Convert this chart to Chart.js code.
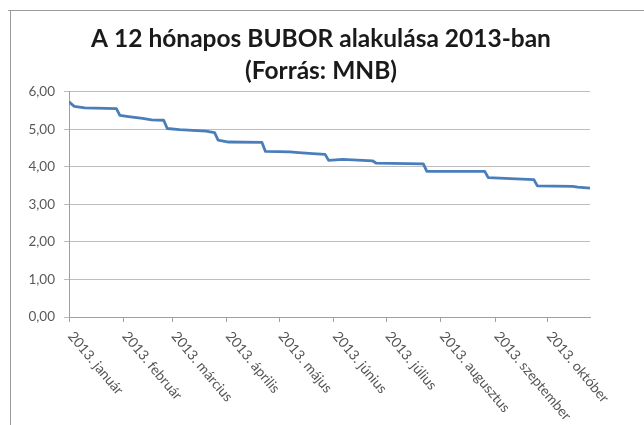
<!DOCTYPE html>
<html>
<head>
  <title>12 hónapos BUBOR 2013</title>
  <script src="https://cdn.jsdelivr.net/npm/chart.js"></script>
  <style>
    body { margin: 0; background: #fff; }
    #wrap { width: 644px; height: 425px; position: relative; }
  </style>
</head>
<body>
  <div id="wrap"><canvas id="bubor"></canvas></div>
  <script>
    // napok január 1-től számolva, és a BUBOR értéke (%)
    const days = [0, 3, 9, 27, 29, 35, 42, 47, 54, 56, 63, 78, 83, 85, 91, 110, 112, 126, 131, 139, 146, 148, 156, 173, 175, 202, 204, 237, 239, 255, 265, 267, 287, 290, 297];
    const rates = [5.73, 5.61, 5.57, 5.55, 5.37, 5.33, 5.29, 5.25, 5.24, 5.02, 4.99, 4.95, 4.91, 4.71, 4.66, 4.65, 4.41, 4.40, 4.38, 4.35, 4.33, 4.17, 4.20, 4.16, 4.10, 4.08, 3.88, 3.88, 3.71, 3.68, 3.66, 3.49, 3.48, 3.46, 3.43];

    // hónapok kezdőnapjai és feliratai
    const monthDays = [0, 31, 59, 90, 120, 151, 181, 212, 243, 273];
    const monthLabels = ['2013. január', '2013. február', '2013. március', '2013. április', '2013. május',
      '2013. június', '2013. július', '2013. augusztus', '2013. szeptember', '2013. október'];
    const lastDay = 297;

    const frame = {
      id: 'frame',
      beforeDraw(chart) {
        const ctx = chart.ctx;
        ctx.save();
        ctx.strokeStyle = '#9a9a9a';
        ctx.lineWidth = 1;
        ctx.beginPath();
        ctx.moveTo(8, 10.5);
        ctx.lineTo(644, 10.5);
        ctx.moveTo(10.5, 10);
        ctx.lineTo(10.5, 425);
        ctx.stroke();
        ctx.restore();
      }
    };

    // ferde hónapfeliratok (balról jobbra lefelé)
    const slantLabels = {
      id: 'slantLabels',
      afterDraw(chart) {
        const ctx = chart.ctx;
        const x = chart.scales.x;
        ctx.save();
        ctx.font = '14px Lato';
        ctx.fillStyle = '#555555';
        ctx.textAlign = 'left';
        ctx.textBaseline = 'top';
        monthDays.forEach((d, i) => {
          const px = x.getPixelForValue(d);
          ctx.save();
          ctx.translate(px + 7, x.top + 12);
          ctx.rotate(50 * Math.PI / 180);
          ctx.fillText(monthLabels[i], 0, 0);
          ctx.restore();
        });
        ctx.restore();
      }
    };

    const ctx = document.getElementById('bubor').getContext('2d');
    new Chart(ctx, {
      type: 'line',
      data: {
        datasets: [{
          data: days.map((d, i) => ({ x: d, y: rates[i] })),
          borderColor: '#4a7ebb',
          borderWidth: 2.8,
          pointRadius: 0,
          tension: 0,
          borderJoinStyle: 'round'
        }]
      },
      options: {
        animation: false,
        responsive: true,
        maintainAspectRatio: false,
        devicePixelRatio: 1,
        layout: { padding: { left: 0, right: 2, top: 0, bottom: 103 } },
        plugins: {
          legend: { display: false },
          tooltip: { enabled: false },
          title: {
            display: true,
            text: ['A 12 hónapos BUBOR alakulása 2013-ban', '(Forrás: MNB)'],
            color: '#1a1a1a',
            font: { family: 'Lato', size: 24.5, weight: 'bold', lineHeight: 1.3 },
            padding: { top: 23, bottom: 5 }
          }
        },
        scales: {
          x: {
            type: 'linear',
            min: 0,
            max: lastDay,
            afterBuildTicks: s => { s.ticks = monthDays.map(v => ({ value: v })); },
            ticks: { display: false },
            grid: { drawOnChartArea: false, drawTicks: true, tickLength: 5, color: '#a0a0a0' },
            border: { color: '#a0a0a0' }
          },
          y: {
            min: 0,
            max: 6,
            afterFit: s => { s.width = 69; },
            ticks: {
              stepSize: 1,
              padding: 9,
              color: '#595959',
              font: { family: 'Lato', size: 13.5 },
              callback: v => v.toFixed(2).replace('.', ',')
            },
            grid: { color: '#bdbdbd', tickLength: 5 },
            border: { color: '#a0a0a0' }
          },
          y2: {
            position: 'right',
            afterFit: s => { s.width = 52; },
            ticks: { display: false },
            grid: { display: false },
            border: { display: false }
          }
        }
      },
      plugins: [frame, slantLabels]
    });
  </script>
</body>
</html>
